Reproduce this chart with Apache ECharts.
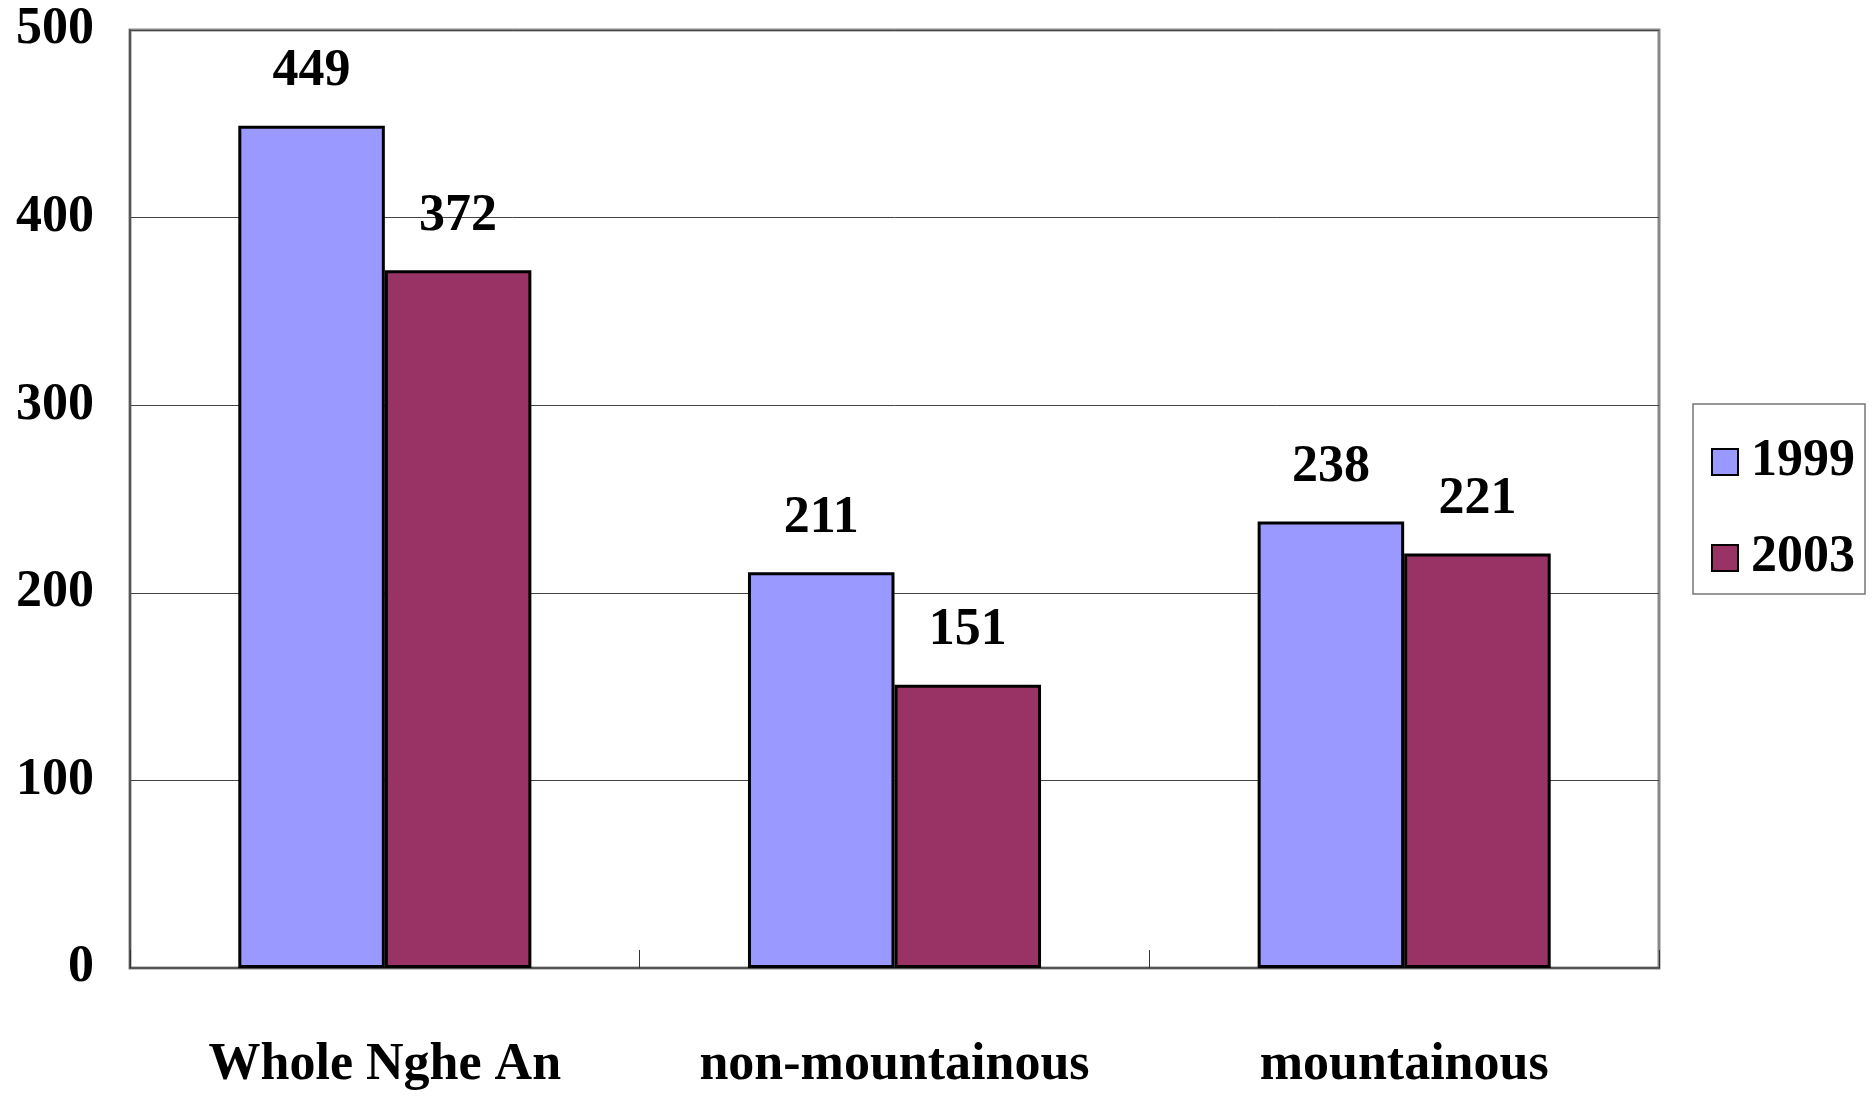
<!DOCTYPE html>
<html>
<head>
<meta charset="utf-8">
<script src="https://cdn.jsdelivr.net/npm/echarts@6/dist/echarts.min.js"></script>
<style>html,body{margin:0;padding:0;background:#fff}#c{width:1875px;height:1099px}</style>
</head>
<body>
<div id="c"></div>
<script>
const categories = ['Whole Nghe An', 'non-mountainous', 'mountainous'];
const seriesNames = ['1999', '2003'];
const values1999 = [449, 211, 238];
const values2003 = [372, 151, 221];
const yTicks = [0, 100, 200, 300, 400, 500];

const FONT = "'Liberation Serif', 'Times New Roman', serif";
const FS = 52;
const chart = echarts.init(document.getElementById('c'), null, {renderer: 'canvas'});
const labelStyle = {show: true, position: 'top', distance: 28, fontFamily: FONT, fontSize: FS, fontWeight: 'bold', color: '#000', lineHeight: FS};
chart.setOption({
  animation: false,
  backgroundColor: '#fff',
  grid: {left: 130, right: 216, top: 30, bottom: 131, show: true, borderColor: '#888', borderWidth: 3, backgroundColor: 'transparent'},
  legend: {
    orient: 'vertical', left: 1693, top: 404,
    padding: [32, 10, 10, 18], itemGap: 44,
    itemWidth: 26, itemHeight: 26, icon: 'rect',
    borderColor: '#777', borderWidth: 1.5,
    textStyle: {fontFamily: FONT, fontSize: FS, fontWeight: 'bold', color: '#000', lineHeight: FS, padding: [0, 0, 0, 8]},
    data: seriesNames
  },
  xAxis: {
    type: 'category', data: categories,
    axisLine: {lineStyle: {color: '#555', width: 2}},
    axisTick: {show: true, inside: true, length: 18, lineStyle: {color: '#333', width: 1}},
    axisLabel: {margin: 72, fontFamily: FONT, fontSize: FS, fontWeight: 'bold', color: '#000'}
  },
  yAxis: {
    type: 'value', min: yTicks[0], max: yTicks[yTicks.length - 1], interval: 100,
    axisLine: {show: true, lineStyle: {color: '#555', width: 2}},
    axisTick: {show: false},
    splitLine: {lineStyle: {color: '#444', width: 1}},
    axisLabel: {margin: 36, fontFamily: FONT, fontSize: FS, fontWeight: 'bold', color: '#000'}
  },
  series: [
    {name: seriesNames[0], type: 'bar', data: values1999, barGap: '0%', barCategoryGap: '42.5%',
     itemStyle: {color: '#9999FF', borderColor: '#000', borderWidth: 3}, label: labelStyle},
    {name: seriesNames[1], type: 'bar', data: values2003, barGap: '0%', barCategoryGap: '42.5%',
     itemStyle: {color: '#993366', borderColor: '#000', borderWidth: 3}, label: labelStyle}
  ]
});
</script>
</body>
</html>
